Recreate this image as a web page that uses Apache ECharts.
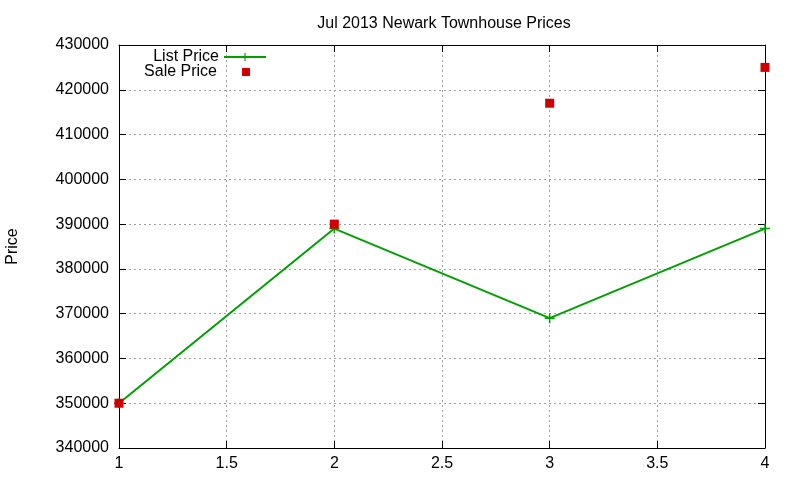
<!DOCTYPE html>
<html><head><meta charset="utf-8">
<script src="https://cdn.jsdelivr.net/npm/echarts@6/dist/echarts.min.js"></script>
<style>html,body{margin:0;padding:0;background:#fff}#c{width:800px;height:480px}</style>
</head><body><div id="c"></div>
<script>
const xValues = [1, 2, 3, 4];
const listPrice = [350000, 389000, 369000, 389000];
const salePrice = [350000, 390000, 417000, 425000];
const titleText = 'Jul 2013 Newark Townhouse Prices';
const yName = 'Price';

const FONT = '"Liberation Sans", Arial, sans-serif';
const plus = 'path://M0,4.25h10v1.5h-10zM4.25,0h1.5v10h-1.5z';
const chart = echarts.init(document.getElementById('c'));
const tickLab = {color:'#000', fontFamily:FONT, fontSize:16};
const grid = {lineStyle:{color:'#a0a0a0', type:[2,3], width:1}};
chart.setOption({
  animation:false,
  backgroundColor:'#fff',
  title:{text:titleText, left:439, textAlign:'center', top:11,
    textStyle:{fontFamily:FONT, fontSize:16, fontWeight:'normal', color:'#000'}},
  grid:{left:119, right:35, top:45, bottom:32, containLabel:false, outerBoundsMode:'none'},
  legend:[
    {data:[{name:'List Price'}], right:533, top:49, padding:0, align:'right', itemWidth:42, itemHeight:10,
      textStyle:{fontFamily:FONT, fontSize:16, color:'#000'}},
    {data:[{name:'Sale Price', icon:'rect'}], right:550, top:64, padding:0, align:'right', itemWidth:8, itemHeight:8,
      textStyle:{fontFamily:FONT, fontSize:16, color:'#000', padding:[0,20,0,0]}}
  ],
  xAxis:[
    {type:'value', min:1, max:4, interval:0.5, position:'bottom',
      axisLine:{show:true, onZero:false, lineStyle:{color:'#000', width:1}},
      axisTick:{show:true, inside:true, length:7, lineStyle:{color:'#000'}},
      axisLabel:{...tickLab, margin:8}, splitLine:{show:true, ...grid}},
    {type:'value', min:1, max:4, interval:0.5, position:'top',
      axisLine:{show:true, onZero:false, lineStyle:{color:'#000', width:1}},
      axisTick:{show:true, inside:true, length:7, lineStyle:{color:'#000'}},
      axisLabel:{show:false}, splitLine:{show:false}}
  ],
  yAxis:[
    {type:'value', min:340000, max:430000, interval:10000, position:'left',
      name:yName, nameLocation:'middle', nameGap:98, nameRotate:90,
      nameTextStyle:{fontFamily:FONT, fontSize:16, color:'#000'},
      axisLine:{show:true, onZero:false, lineStyle:{color:'#000', width:1}},
      axisTick:{show:true, inside:true, length:7, lineStyle:{color:'#000'}},
      axisLabel:{...tickLab, margin:10, formatter:v=>String(v)}, splitLine:{show:true, ...grid}},
    {type:'value', min:340000, max:430000, interval:10000, position:'right',
      axisLine:{show:true, onZero:false, lineStyle:{color:'#000', width:1}},
      axisTick:{show:true, inside:true, length:7, lineStyle:{color:'#000'}},
      axisLabel:{show:false}, splitLine:{show:false}}
  ],
  series:[
    {name:'List Price', type:'line', data:xValues.map((x,i)=>[x, listPrice[i]]),
      symbol:plus, symbolSize:10, showSymbol:true,
      lineStyle:{color:'#00a000', width:2}, itemStyle:{color:'#00a000'}, z:3},
    {name:'Sale Price', type:'scatter', data:xValues.map((x,i)=>[x, salePrice[i]]),
      symbol:'rect', symbolSize:9, itemStyle:{color:'#d00000', opacity:1}, z:4}
  ]
});
</script></body></html>
